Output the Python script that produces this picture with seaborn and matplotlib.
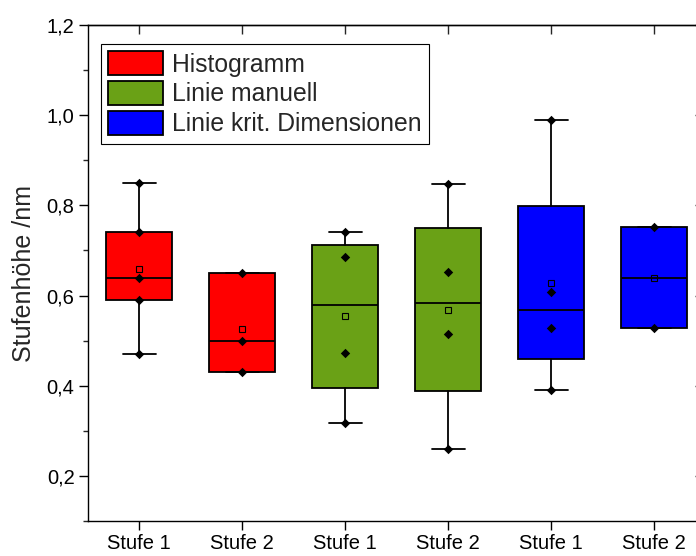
import numpy as np
import pandas as pd
import matplotlib
matplotlib.use("Agg")
import matplotlib.pyplot as plt
from matplotlib.patches import Patch
from matplotlib.ticker import FuncFormatter, MultipleLocator
import seaborn as sns

# Messmethoden und Farben
methods = ["Histogramm", "Linie manuell", "Linie krit. Dimensionen"]
method_colors = ["#FF0000", "#6AA116", "#0000FF"]
stages = ["Stufe 1", "Stufe 2"]

# Stufenhöhen in nm je Methode und Stufe
histogramm_stufe1 = [0.85, 0.74, 0.64, 0.59, 0.47]
histogramm_stufe2 = [0.65, 0.50, 0.43]
manuell_stufe1 = [0.74, 0.686, 0.472, 0.318]
manuell_stufe2 = [0.848, 0.652, 0.515, 0.26]
krit_stufe1 = [0.99, 0.607, 0.528, 0.39]
krit_stufe2 = [0.751, 0.528]

values = {
    ("Histogramm", "Stufe 1"): histogramm_stufe1,
    ("Histogramm", "Stufe 2"): histogramm_stufe2,
    ("Linie manuell", "Stufe 1"): manuell_stufe1,
    ("Linie manuell", "Stufe 2"): manuell_stufe2,
    ("Linie krit. Dimensionen", "Stufe 1"): krit_stufe1,
    ("Linie krit. Dimensionen", "Stufe 2"): krit_stufe2,
}

rows = []
order, box_colors, tick_labels, stats = [], [], [], []
for m, c in zip(methods, method_colors):
    for s in stages:
        gid = f"{m} | {s}"
        arr = np.asarray(values[(m, s)], dtype=float)
        order.append(gid)
        box_colors.append(c)
        tick_labels.append(s)
        for v in arr:
            rows.append({"Gruppe": gid, "Wert": v})
        q1, med, q3 = np.percentile(arr, [25, 50, 75], method="averaged_inverted_cdf")
        stats.append(dict(med=med, q1=q1, q3=q3, whislo=arr.min(), whishi=arr.max(),
                          mean=arr.mean(), fliers=[]))
df = pd.DataFrame(rows)

sns.set_style("ticks")
plt.rcParams["font.family"] = ["Liberation Sans", "DejaVu Sans"]
plt.rcParams["axes.linewidth"] = 1.0

fig = plt.figure(figsize=(6.96, 5.56), dpi=100)
ax = fig.add_axes([87.7 / 696, 35 / 556, 615.8 / 696, 496 / 556])

lw = 1.3
bp = ax.bxp(stats, positions=range(len(order)), widths=0.64, patch_artist=True,
            showmeans=True, showfliers=False,
            boxprops=dict(edgecolor="black", linewidth=lw),
            medianprops=dict(color="black", linewidth=lw),
            whiskerprops=dict(color="black", linewidth=lw),
            capprops=dict(color="black", linewidth=lw),
            meanprops=dict(marker="s", markerfacecolor="none", markeredgecolor="black",
                           markersize=4.2, markeredgewidth=0.8))
for patch, c in zip(bp["boxes"], box_colors):
    patch.set_facecolor(c)

sns.stripplot(data=df, x="Gruppe", y="Wert", order=order, color="black", marker="D",
              size=4.8, jitter=False, ax=ax, zorder=5)

ax.set_xlim(-0.5, 5.48)
ax.set_ylim(0.1, 1.2)
ax.set_xticks(range(len(order)))
ax.set_xticklabels(tick_labels)
ax.set_xlabel("")
ax.set_ylabel("Stufenhöhe /nm", fontsize=18, labelpad=8)

ax.yaxis.set_major_locator(MultipleLocator(0.2))
ax.yaxis.set_minor_locator(MultipleLocator(0.1))
ax.yaxis.set_major_formatter(FuncFormatter(lambda v, _: f"{v:.1f}".replace(".", ",")))

ax.tick_params(axis="both", which="major", direction="out", length=6.5, width=1.0,
               labelsize=14.5, pad=3, colors="black")
ax.tick_params(axis="y", which="minor", direction="out", length=3.5, width=1.0)
ax.tick_params(axis="x", which="minor", bottom=False)

for sp in ax.spines.values():
    sp.set_linewidth(1.0)
    sp.set_color("black")

# Gegenachsen oben und rechts mit nach innen zeigenden Ticks
top = ax.secondary_xaxis("top")
top.set_xticks(range(len(order)), labels=[""] * len(order))
top.tick_params(direction="in", length=6.5, width=1.0)
right = ax.secondary_yaxis("right")
right.set_yticks([0.2, 0.4, 0.6, 0.8, 1.0, 1.2], labels=[""] * 6)
right.tick_params(direction="in", length=6.5, width=1.0)
right.yaxis.set_minor_locator(plt.NullLocator())

handles = [Patch(facecolor=c, edgecolor="black", linewidth=1.3, label=m)
           for m, c in zip(methods, method_colors)]
leg = ax.legend(handles=handles, loc="upper left",
                bbox_to_anchor=(13 / 615.8, 1 - 19 / 496), borderaxespad=0,
                fontsize=17.8, handlelength=2.2, handleheight=1.1, handletextpad=0.37,
                labelspacing=0.18, borderpad=0.3, frameon=True, fancybox=False,
                edgecolor="black", framealpha=1)
leg.get_frame().set_linewidth(0.8)

fig.savefig("out.png", dpi=100)
